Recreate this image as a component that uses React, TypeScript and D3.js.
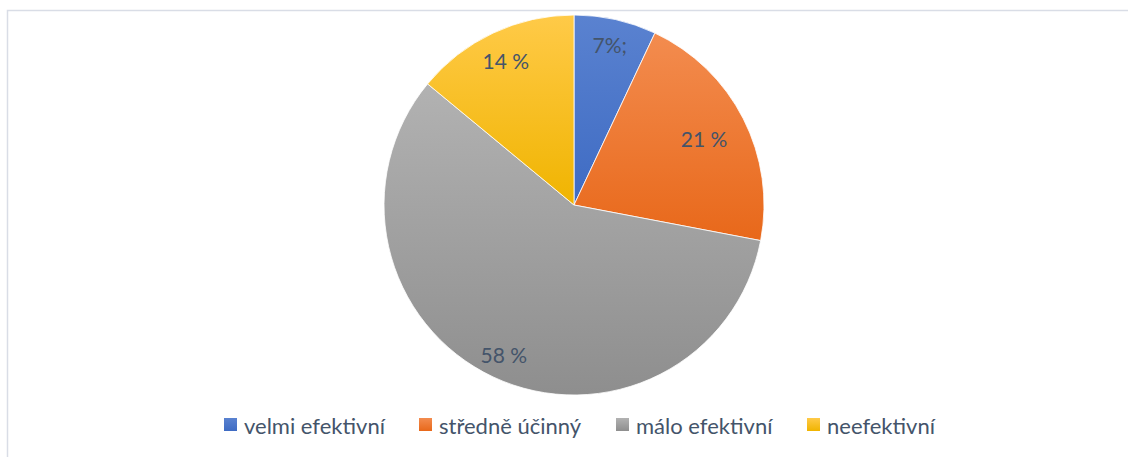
import React from "react";
import * as d3 from "d3";

const categories = ["velmi efektivní", "středně účinný", "málo efektivní", "neefektivní"];
const values = [7, 21, 58, 14];
const valueLabels = ["7%;", "21 %", "58 %", "14 %"];
const gradTop = ["#5a82d0", "#f38c4f", "#b2b2b2", "#ffca48"];
const gradBottom = ["#3e6bc3", "#e8681a", "#8e8e8e", "#f0b400"];

const W = 1128;
const H = 457;
const cx = 574;
const cy = 205;
const R = 190;
const labelR = [164, 146, 165, 160];
const legendX = [224, 419, 616, 807];

export default function App() {
  const pie = d3.pie<number>().sort(null).value((d) => d);
  const arcs = pie(values);
  const arcGen = d3.arc<d3.PieArcDatum<number>>().innerRadius(0).outerRadius(R);
  return (
    <svg width={W} height={H} style={{ position: "absolute", left: 0, top: 0 }}>
      <defs>
        {categories.map((c, i) => (
          <linearGradient key={c} id={`g${i}`} x1="0" y1="0" x2="0" y2="1">
            <stop offset="0" stopColor={gradTop[i]} />
            <stop offset="1" stopColor={gradBottom[i]} />
          </linearGradient>
        ))}
      </defs>
      <rect x={0} y={0} width={W} height={H} fill="#fff" />
      <rect x={7.5} y={10.5} width={W + 10} height={H + 10} fill="#fff" stroke="#d9dde6" strokeWidth={1.5} />
      <g transform={`translate(${cx},${cy})`}>
        {arcs.map((a, i) => (
          <path key={i} d={arcGen(a) || ""} fill={`url(#g${i})`} stroke="#fff" strokeWidth={0.8} />
        ))}
        {arcs.map((a, i) => {
          const mid = (a.startAngle + a.endAngle) / 2;
          const x = Math.sin(mid) * labelR[i];
          const y = -Math.cos(mid) * labelR[i];
          return (
            <text key={i} x={x} y={y} textAnchor="middle" dominantBaseline="central"
              fontFamily="Lato, 'Open Sans', sans-serif" fontSize={21} fill="#44546a">
              {valueLabels[i]}
            </text>
          );
        })}
      </g>
      {categories.map((c, i) => (
        <g key={c}>
          <rect x={legendX[i]} y={418} width={13} height={13} fill={`url(#g${i})`} />
          <text x={legendX[i] + 20} y={425} dominantBaseline="central"
            fontFamily="Lato, 'Open Sans', sans-serif" fontSize={22} fill="#44546a">
            {c}
          </text>
        </g>
      ))}
    </svg>
  );
}
